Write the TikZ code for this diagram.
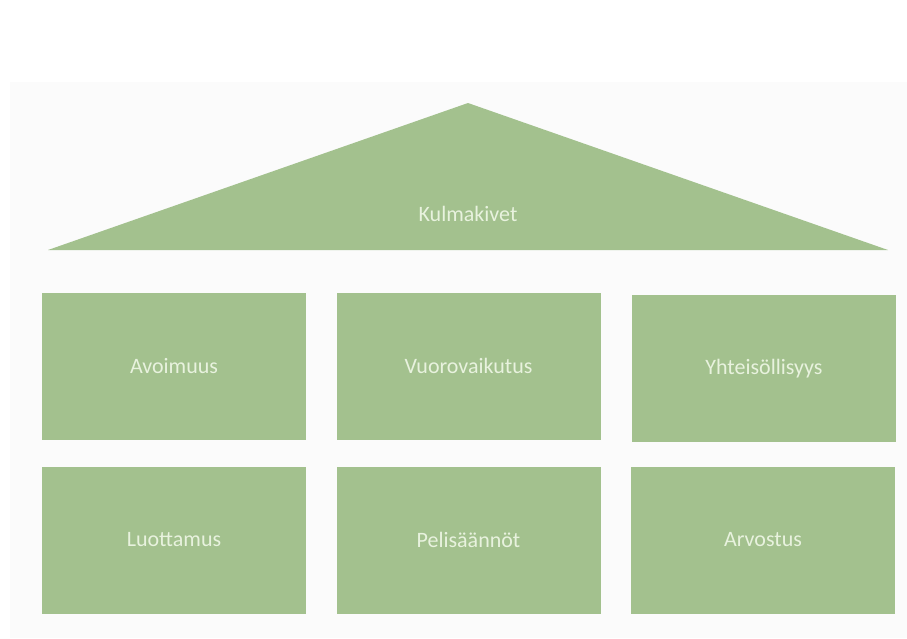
\documentclass[tikz,border=0pt]{standalone}
\usepackage{fontspec}
\setmainfont{Carlito}
\usetikzlibrary{positioning}

\definecolor{leaf}{HTML}{A3C18E}
\definecolor{leaftext}{HTML}{E8F2DE}
\definecolor{paper}{HTML}{FBFBFB}

\tikzset{
    label text/.style={text=leaftext, font=\fontsize{22}{26}\selectfont},
    pillar/.style={label text, fill=leaf, inner sep=0pt,
        minimum width=264pt, minimum height=147pt}
}

\begin{document}
\begin{tikzpicture}[x=1pt,y=-1pt]

\useasboundingbox (0,0) rectangle (907,638);
\fill[paper] (10,82) rectangle (907,638);

% roof
\coordinate (eaveL) at (48,250);
\coordinate (eaveR) at (888,250);
\coordinate (ridge) at (468,103);
\fill[leaf] (eaveL)--(ridge)--(eaveR)--cycle;
\node[label text] (roof) at (468,214) {Kulmakivet};

% upper row
\node[pillar] (avoimuus) at (174,366) {Avoimuus};
\node[pillar] (vuoro) at (468.5,366) {Vuorovaikutus};
\node[pillar] (yhteis) at (764,368.5) {Yhteisöllisyys};

% lower row
\node[pillar] (luottamus) at (174,540) {Luottamus};
\node[pillar] (pelisaannot) at (468.5,540) {Pelisäännöt};
\node[pillar] (arvostus) at (763,540) {Arvostus};

\end{tikzpicture}
\end{document}
